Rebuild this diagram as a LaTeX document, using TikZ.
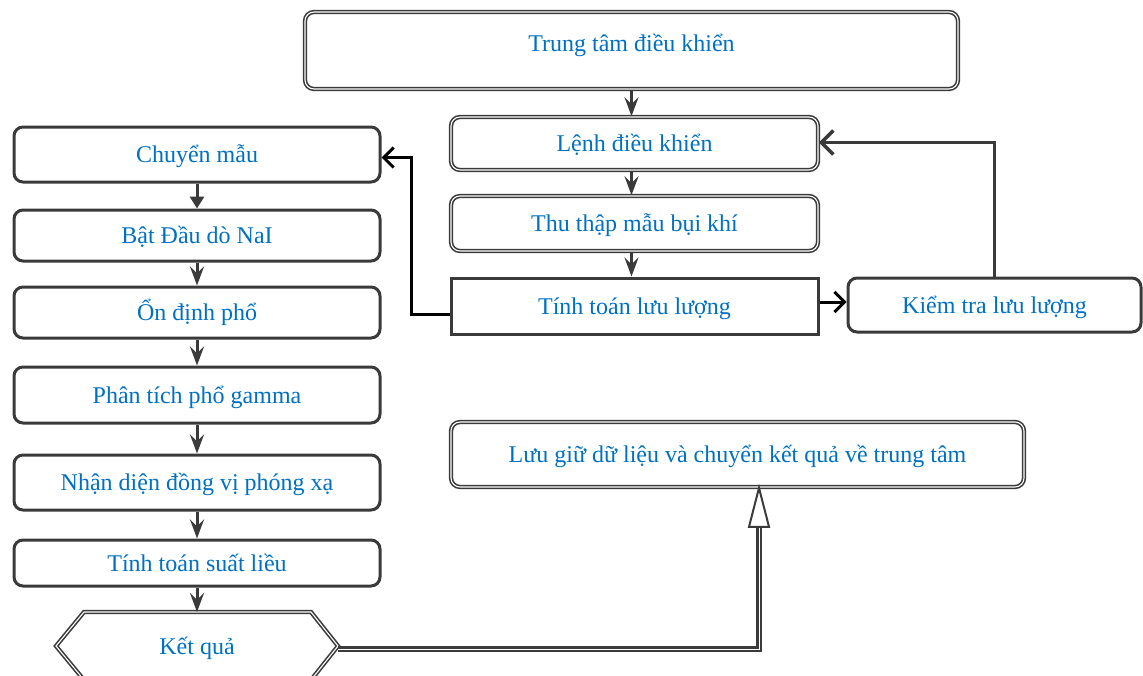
\documentclass[tikz,border=0pt]{standalone}
\usepackage{fontspec}
\setmainfont{Liberation Serif}
\usetikzlibrary{arrows.meta}
\definecolor{edge}{HTML}{3A3A3A}
\definecolor{txt}{HTML}{0070C0}
\begin{document}
\begin{tikzpicture}[x=1pt,y=-1pt,
  font=\fontsize{24}{27}\selectfont,
  every node/.style={text=txt, text height=21pt, text depth=5pt, inner sep=0pt},
  solidbox/.style={draw=edge, line width=3pt, rounded corners=9pt},
  squarebox/.style={draw=edge, line width=3pt},
  dblbox/.style={draw=edge, line width=1.6pt, double=white, double distance=1.1pt, rounded corners=9pt},
  flow/.style={draw=edge, line width=3pt, -{Stealth[length=19pt,width=14pt,inset=7pt]}},
  flowtri/.style={draw=edge, line width=3pt, -{Triangle[length=12pt,width=14pt]}},
  blackbarb/.style={draw=black, line width=3pt, -{Straight Barb[length=10pt,width=20pt]}},
  graybarb/.style={draw=edge, line width=3.5pt, -{Straight Barb[length=12pt,width=24pt]}},
  openarrow/.style={draw=edge, line width=2.4pt, double=white, double distance=1pt,
    -{Triangle[open,length=44pt,width=22pt,line width=2pt]}}]
\useasboundingbox (0,0) rectangle (1143,675);
\clip (0,0) rectangle (1143,675);

% control centre and acquisition chain
\node[dblbox, minimum width=653pt, minimum height=77pt] (top) at (631.5,50.5) {};
\node (toptext) at (631.5,43) {Trung tâm điều khiển};
\node[dblbox, minimum width=367pt, minimum height=53pt] (lenh) at (634.5,143.5) {Lệnh điều khiển};
\node[dblbox, minimum width=367pt, minimum height=55pt] (thuthap) at (634.5,223.5) {Thu thập mẫu bụi khí};
\node[squarebox, minimum width=367pt, minimum height=56pt] (tinhll) at (634.5,306) {Tính toán lưu lượng};
\node[solidbox, minimum width=293pt, minimum height=54pt] (kiemtra) at (994.5,305) {Kiểm tra lưu lượng};
\node[dblbox, minimum width=573pt, minimum height=65pt] (luugiu) at (737.5,454.5) {Lưu giữ dữ liệu và chuyển kết quả về trung tâm};

% measurement chain
\node[solidbox, minimum width=366pt, minimum height=55pt] (chuyen) at (197,154.5) {Chuyển mẫu};
\node[solidbox, minimum width=366pt, minimum height=51pt] (bat) at (197,235.5) {Bật Đầu dò NaI};
\node[solidbox, minimum width=366pt, minimum height=51pt] (ondinh) at (197,312.5) {Ổn định phổ};
\node[solidbox, minimum width=366pt, minimum height=56pt] (phantich) at (197,395) {Phân tích phổ gamma};
\node[solidbox, minimum width=366pt, minimum height=55pt] (nhandien) at (197,482.5) {Nhận diện đồng vị phóng xạ};
\node[solidbox, minimum width=366pt, minimum height=46pt] (suatlieu) at (197,563) {Tính toán suất liều};

% result hexagon
\draw[draw=edge, line width=1.6pt, double=white, double distance=1.1pt]
  (56,646) -- (84,612) -- (311,612) -- (338,646) -- (311,680) -- (84,680) -- cycle;
\node (ketqua) at (197,646) {Kết quả};
\coordinate (kqtop) at (197,612);
\coordinate (kqright) at (338,649);

% connectors
\draw[flow] (top.south) -- (top.south |- lenh.north);
\draw[flow] (lenh.south -| top.south) -- (thuthap.north -| top.south);
\draw[flow] (thuthap.south -| top.south) -- (tinhll.north -| top.south);
\draw[blackbarb] ([yshift=4pt]tinhll.east) -- ([yshift=4pt]tinhll.east -| kiemtra.west);
\draw[graybarb] (kiemtra.north) |- ([yshift=1pt]lenh.east);
\draw[blackbarb] ([yshift=-8pt]tinhll.west) -| ([xshift=30pt,yshift=-3pt]chuyen.east) -- ([yshift=-3pt]chuyen.east);

\draw[flowtri] (chuyen.south) -- (bat.north);
\draw[flow] (bat.south) -- (ondinh.north);
\draw[flow] (ondinh.south) -- (phantich.north);
\draw[flow] (phantich.south) -- (nhandien.north);
\draw[flow] (nhandien.south) -- (suatlieu.north);
\draw[flow] (suatlieu.south) -- (kqtop);
\draw[openarrow] (kqright) -| ([xshift=21.5pt,yshift=4pt]luugiu.south);
\end{tikzpicture}
\end{document}
